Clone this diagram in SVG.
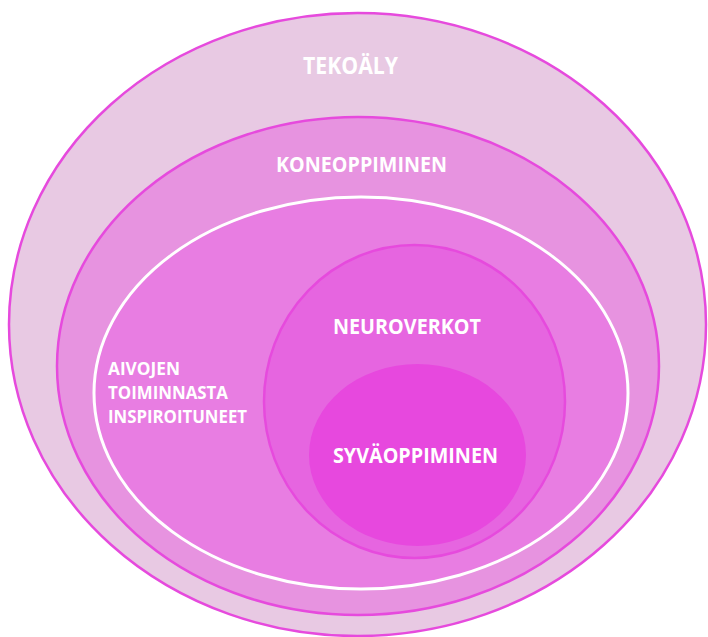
<svg xmlns="http://www.w3.org/2000/svg" width="708" height="637" viewBox="0 0 708 637">
<style>
.lbl{font-family:"Open Sans","Liberation Sans",sans-serif;font-weight:700;fill:#ffffff;}
.ring{stroke:#E64ADD;stroke-width:2.5;}
</style>
<rect width="708" height="637" fill="#ffffff"/>
<g id="tekoaly">
<ellipse class="ring" cx="357.5" cy="324.5" rx="348.5" ry="311.5" fill="#E8C9E3"/>
<text class="lbl" x="303" y="74" font-size="24" textLength="95" lengthAdjust="spacingAndGlyphs">TEKOÄLY</text>
</g>
<g id="koneoppiminen">
<ellipse class="ring" cx="358" cy="366" rx="301" ry="249" fill="#E793E0"/>
<text class="lbl" x="276" y="172" font-size="22" textLength="171" lengthAdjust="spacingAndGlyphs">KONEOPPIMINEN</text>
</g>
<g id="aivojen">
<ellipse cx="361" cy="393" rx="267" ry="196" fill="#E87DE2" stroke="#ffffff" stroke-width="3"/>
<text class="lbl" font-size="17.5"><tspan x="108" y="375" textLength="72" lengthAdjust="spacingAndGlyphs">AIVOJEN</tspan><tspan x="108" y="399" textLength="120" lengthAdjust="spacingAndGlyphs">TOIMINNASTA</tspan><tspan x="108" y="423" textLength="139" lengthAdjust="spacingAndGlyphs">INSPIROITUNEET</tspan></text>
</g>
<g id="neuroverkot">
<ellipse class="ring" cx="414.5" cy="401.5" rx="150.5" ry="156.5" fill="#E665E0" stroke-width="2"/>
<text class="lbl" x="333" y="334" font-size="21" textLength="148" lengthAdjust="spacingAndGlyphs">NEUROVERKOT</text>
</g>
<g id="syvaoppiminen">
<ellipse cx="417.5" cy="455" rx="108.5" ry="91" fill="#E748DE"/>
<text class="lbl" x="333" y="463" font-size="20.5" textLength="165" lengthAdjust="spacingAndGlyphs">SYVÄOPPIMINEN</text>
</g>
<g id="connectors"/>
</svg>
